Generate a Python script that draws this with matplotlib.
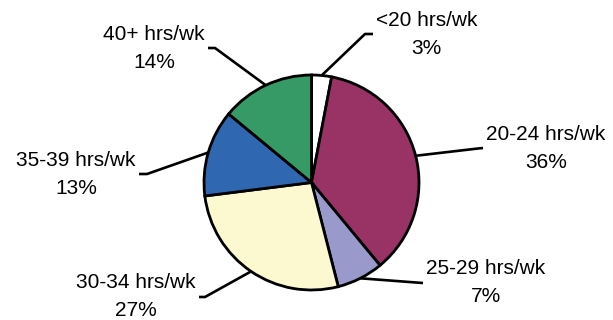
import numpy as np
import matplotlib
matplotlib.use('Agg')
import matplotlib.pyplot as plt

labels = ['<20 hrs/wk', '20-24 hrs/wk', '25-29 hrs/wk', '30-34 hrs/wk', '35-39 hrs/wk', '40+ hrs/wk']
shares = [3, 36, 7, 27, 13, 14]
colors = ['#FFFFFF', '#993366', '#9999CC', '#FCF9D0', '#2F67B1', '#359A66']

# leader lines: elbow point and end point, in pixels of the 613x320 picture
elbows = [(365, 34), (478, 148.5), (416, 282.5), (205, 297), (147, 174), (215, 48)]
ends = [(373, 34), (483, 148), (423, 283), (199, 297), (139, 174), (208, 48)]

W, H = 613, 320
CX, CY, R = 311.5, 182.5, 107.5


def px(x, y):
    return (x - CX) / R, (CY - y) / R


def main():
    plt.rcParams['font.family'] = ['Liberation Sans', 'DejaVu Sans']
    fig = plt.figure(figsize=(W / 100, H / 100), dpi=100)
    ax = fig.add_axes([0, 0, 1, 1])

    wedges, _ = ax.pie(shares, colors=colors, startangle=90, counterclock=False,
                       radius=1, wedgeprops=dict(edgecolor='black', linewidth=2))
    for w in wedges:
        w.set_zorder(2)

    for i, w in enumerate(wedges):
        mid = np.deg2rad((w.theta1 + w.theta2) / 2)
        sx, sy = np.cos(mid), np.sin(mid)
        ex, ey = px(*elbows[i])
        tx, ty = px(*ends[i])
        ax.plot([sx, ex, tx], [sy, ey, ty], color='black', lw=1.9,
                solid_capstyle='butt', zorder=1)
        pct = f'{shares[i]}%'
        if tx > ex:
            ax.text(tx + 3 / R, ty, f'{labels[i]}\n{pct}', ha='left', va='center',
                    multialignment='center', fontsize=15, linespacing=1.6)
        else:
            ax.text(tx - 3 / R, ty, f'{labels[i]}\n{pct}', ha='right', va='center',
                    multialignment='center', fontsize=15, linespacing=1.6)

    ax.set_xlim(-CX / R, (W - CX) / R)
    ax.set_ylim(-(H - CY) / R, CY / R)
    ax.set_aspect('auto')
    ax.axis('off')

    fig.savefig('out.png', dpi=100, facecolor='white')


if __name__ == '__main__':
    main()
